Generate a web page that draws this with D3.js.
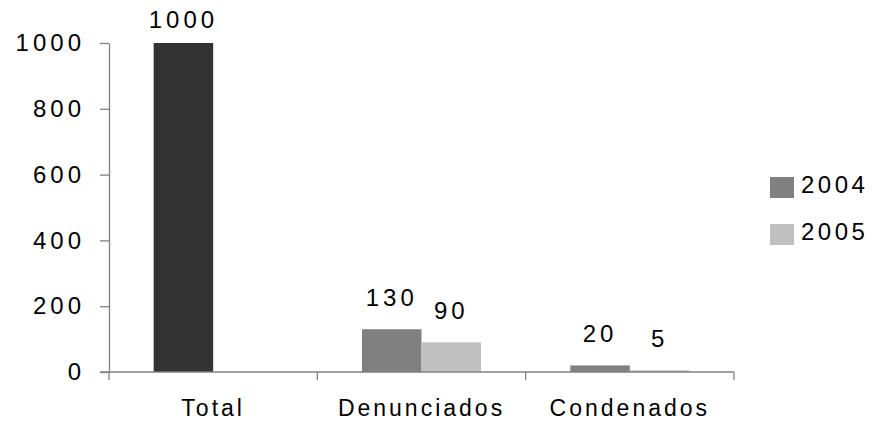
<!DOCTYPE html>
<html>
<head>
<meta charset="utf-8">
<script src="https://cdn.jsdelivr.net/npm/d3@7"></script>
<style>
  html, body { margin: 0; padding: 0; background: #fff; }
  svg { display: block; font-family: "Liberation Sans", Arial, sans-serif; }
</style>
</head>
<body>
<svg id="chart" width="874" height="426"></svg>
<script>
const categories = ["Total", "Denunciados", "Condenados"];
const seriesNames = ["2004", "2005"];
const values2004 = [1000, 130, 20];
const values2005 = [null, 90, 5];
const yTicks = [0, 200, 400, 600, 800, 1000];

const colors = { "2004": "#808080", "2005": "#c0c0c0", "Total": "#333333" };

const svg = d3.select("#chart");
const mLeft = 109, mRight = 734, mTop = 43, mBottom = 372;
const FONT = "Liberation Sans, Arial, sans-serif";

const x0 = d3.scaleBand().domain(categories).range([mLeft, mRight]).padding(0);
const x1 = d3.scaleBand().domain(seriesNames).range([0, x0.bandwidth()])
  .paddingInner(0).paddingOuter(0.75);
const y = d3.scaleLinear().domain([0, 1000]).range([mBottom, mTop]);

const data = [];
categories.forEach((c, i) => {
  [values2004[i], values2005[i]].forEach((v, j) => {
    if (v == null) return;
    data.push({ cat: c, series: seriesNames[j], value: v });
  });
});

// bars
svg.append("g").selectAll("rect").data(data).join("rect")
  .attr("x", d => x0(d.cat) + x1(d.series))
  .attr("width", x1.bandwidth())
  .attr("y", d => y(d.value))
  .attr("height", d => y(0) - y(d.value))
  .attr("fill", d => d.cat === "Total" ? colors.Total : colors[d.series]);

// value labels
svg.append("g").selectAll("text").data(data).join("text")
  .attr("x", d => x0(d.cat) + x1(d.series) + x1.bandwidth() / 2)
  .attr("y", d => Math.max(y(d.value) - 23, 28))
  .attr("text-anchor", "middle")
  .attr("font-size", 24)
  .attr("letter-spacing", 4)
  .attr("fill", "#000")
  .text(d => d.value);

// y axis
const yAxis = d3.axisLeft(y).tickValues(yTicks).tickFormat(d3.format("d"))
  .tickSize(9).tickPadding(15).tickSizeOuter(0);
const gy = svg.append("g").attr("transform", `translate(${mLeft},0)`).call(yAxis);
gy.select(".domain").attr("stroke", "#808080").attr("stroke-width", 1.3);
gy.selectAll(".tick line").attr("stroke", "#808080").attr("stroke-width", 1.3);
gy.selectAll(".tick text").attr("font-size", 24).attr("letter-spacing", 4)
  .attr("font-family", FONT).attr("fill", "#000");

// x axis
const xAxis = d3.axisBottom(x0).tickSize(0).tickPadding(28).tickSizeOuter(0);
const gx = svg.append("g").attr("transform", `translate(0,${mBottom})`).call(xAxis);
gx.select(".domain").attr("stroke", "#808080").attr("stroke-width", 1.3)
  .attr("d", `M${mLeft - 9},0H${mRight}`);
gx.selectAll(".tick text").attr("font-size", 23).attr("letter-spacing", 3)
  .attr("font-family", FONT).attr("fill", "#000");
// category separators
const seps = categories.map(c => x0(c)).concat([mRight]);
gx.selectAll(".sep").data(seps).join("line").attr("class", "sep")
  .attr("x1", d => d).attr("x2", d => d).attr("y1", 0).attr("y2", 8)
  .attr("stroke", "#808080").attr("stroke-width", 1.3);

// legend
const lg = svg.append("g").attr("transform", "translate(770,177)");
seriesNames.forEach((s, i) => {
  const g = lg.append("g").attr("transform", `translate(0,${i * 47})`);
  g.append("rect").attr("width", 24).attr("height", 21).attr("fill", colors[s]);
  g.append("text").attr("x", 31).attr("y", 16).attr("font-size", 24)
    .attr("letter-spacing", 3.5).attr("fill", "#000").text(s);
});
</script>
</body>
</html>
